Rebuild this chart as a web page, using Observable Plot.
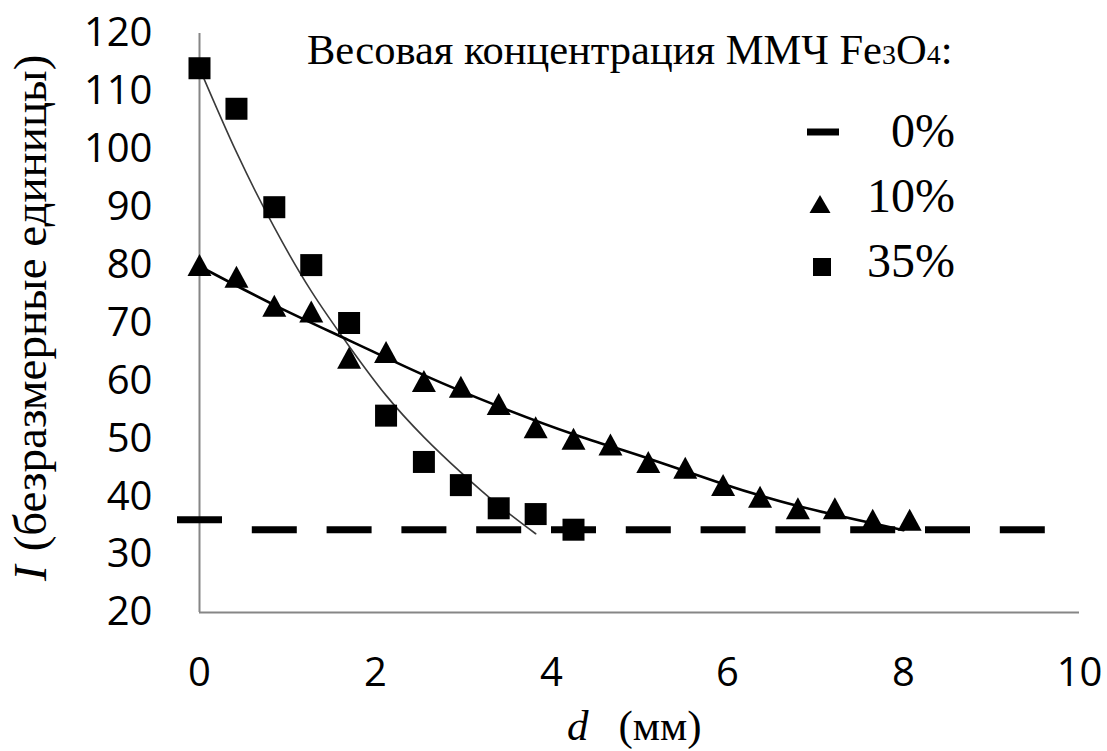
<!DOCTYPE html>
<html><head><meta charset="utf-8">
<script src="https://cdn.jsdelivr.net/npm/d3@7"></script>
<script src="https://cdn.jsdelivr.net/npm/@observablehq/plot@0.6"></script>
<style>
html,body{margin:0;padding:0;background:#fff;}
#chart{width:1107px;height:751px;overflow:hidden;}
</style></head><body><div id="chart"></div>
<script>
// ---- data ----
const xTicks = [0, 2, 4, 6, 8, 10];
const yTicks = [20, 30, 40, 50, 60, 70, 80, 90, 100, 110, 120];

// 0% (dash markers)
const d0 = [0, 0.85, 1.7, 2.55, 3.4, 4.25, 5.1, 5.95, 6.8, 7.65, 8.5, 9.35];
const i0 = [36, 34.3, 34.3, 34.3, 34.3, 34.3, 34.3, 34.3, 34.3, 34.3, 34.3, 34.3];

// 10% (triangles)
const d10 = [0, 0.42, 0.85, 1.27, 1.7, 2.12, 2.55, 2.97, 3.4, 3.82, 4.25, 4.67, 5.1, 5.52, 5.95, 6.37, 6.8, 7.22, 7.65, 8.07];
const i10 = [80, 78, 73, 72, 64, 65, 60, 59, 56, 52, 50, 49, 46, 45, 42, 40, 38, 38, 36, 36];

// 35% (squares)
const d35 = [0, 0.42, 0.85, 1.27, 1.7, 2.12, 2.55, 2.97, 3.4, 3.82, 4.25];
const i35 = [114, 107, 90, 80, 70, 54, 46, 42, 38, 37, 34.3];

// trend lines
const t10d = [0, 0.85, 1.7, 2.55, 3.4, 4.25, 5.1, 5.95, 6.8, 7.65, 8.0];
const t10i = [79.8, 73.1, 67, 61, 55.6, 50.8, 46.6, 42.2, 38.4, 35.4, 34.2];
const t35d = [0, 0.42, 0.85, 1.27, 1.7, 2.12, 2.55, 2.97, 3.4, 3.82];
const t35i = [114, 99.5, 86.5, 75.5, 66, 57.5, 50.3, 44.2, 38.5, 33.6];

const seriesLabels = ["0%", "10%", "35%"];

// ---- tables ----
const zip = (xs, ys) => xs.map((x, k) => ({x, y: ys[k]}));
const pts0 = zip(d0, i0), pts10 = zip(d10, i10), pts35 = zip(d35, i35);
const tr10 = zip(t10d, t10i), tr35 = zip(t35d, t35i);

// ---- marker shapes ----
const poly = (ctx, p) => { ctx.moveTo(p[0][0], p[0][1]); for (let k = 1; k < p.length; k++) ctx.lineTo(p[k][0], p[k][1]); ctx.closePath(); };
const rectPts = (w, h) => [[-w/2, -h/2], [w/2, -h/2], [w/2, h/2], [-w/2, h/2]];
const triPts = (w, h) => [[0, -h/2], [w/2, h/2], [-w/2, h/2]];
const dashSym = {draw(ctx) { poly(ctx, rectPts(45, 7)); }};
const triSym = {draw(ctx) { poly(ctx, triPts(24, 22)); }};
const sqSym = {draw(ctx) { poly(ctx, rectPts(22, 22)); }};

const tickFont = "'Open Sans', 'Liberation Sans', sans-serif";
const serif = "'Liberation Serif', 'DejaVu Serif', serif";

const plot = Plot.plot({
  width: 1107,
  height: 751,
  marginLeft: 199,
  marginRight: 28,
  marginTop: 33,
  marginBottom: 139,
  style: {fontFamily: tickFont, fontSize: "40px", background: "#fff", color: "#000"},
  x: {domain: [0, 10], label: null},
  y: {domain: [20, 120], label: null},
  marks: [
    Plot.ruleX([0], {stroke: "#868686", strokeWidth: 2}),
    Plot.ruleY([20], {stroke: "#868686", strokeWidth: 2}),
    Plot.axisY({ticks: yTicks, tickSize: 0, tickPadding: 47, fontSize: 40, fontFamily: tickFont, label: null}),
    Plot.axisX({ticks: xTicks, tickSize: 0, tickPadding: 45, fontSize: 40, fontFamily: tickFont, label: null}),
    Plot.line(tr35, {x: "x", y: "y", curve: "natural", stroke: "#3a3a3a", strokeWidth: 1.6}),
    Plot.line(tr10, {x: "x", y: "y", curve: "natural", stroke: "#000", strokeWidth: 2.6}),
    Plot.dot(pts0, {x: "x", y: "y", symbol: dashSym, r: 10, fill: "#000", stroke: "none"}),
    Plot.dot(pts10, {x: "x", y: "y", symbol: triSym, r: 10, fill: "#000", stroke: "none"}),
    Plot.dot(pts35, {x: "x", y: "y", symbol: sqSym, r: 10, fill: "#000", stroke: "none"})
  ]
});
document.getElementById("chart").appendChild(plot);

// ---- titles and legend ----
const svg = d3.select(plot);

// legend heading
const head = svg.append("text")
  .attr("x", 307).attr("y", 64).attr("text-anchor", "start")
  .attr("font-family", serif).attr("font-size", 42.5).attr("fill", "#000");
head.append("tspan").text("Весовая концентрация ММЧ Fe");
head.append("tspan").attr("font-size", 28).text("3");
head.append("tspan").text("O");
head.append("tspan").attr("font-size", 28).text("4");
head.append("tspan").text(":");

// legend rows
const legendRows = [
  {label: seriesLabels[0], shape: rectPts(32, 7), cx: 823, cy: 132, base: 147},
  {label: seriesLabels[1], shape: triPts(21, 18), cx: 820, cy: 204, base: 212},
  {label: seriesLabels[2], shape: rectPts(18, 18), cx: 822, cy: 267, base: 277}
];
for (const r of legendRows) {
  svg.append("path")
    .attr("d", "M" + r.shape.map(p => (p[0] + r.cx) + "," + (p[1] + r.cy)).join("L") + "Z")
    .attr("fill", "#000");
  svg.append("text")
    .attr("x", 955).attr("y", r.base).attr("text-anchor", "end")
    .attr("font-family", serif).attr("font-size", 48).attr("fill", "#000")
    .text(r.label);
}

// y axis title
const yt = svg.append("text")
  .attr("transform", "translate(46,581) rotate(-90)").attr("text-anchor", "start")
  .attr("font-family", serif).attr("font-size", 47).attr("fill", "#000");
yt.append("tspan").attr("font-style", "italic").text("I");
yt.append("tspan").attr("dx", 14).text("(безразмерные единицы)");

// x axis title
const xt = svg.append("text")
  .attr("x", 567).attr("y", 740).attr("text-anchor", "start")
  .attr("font-family", serif).attr("font-size", 43).attr("fill", "#000");
xt.append("tspan").attr("font-style", "italic").text("d");
xt.append("tspan").attr("dx", 30).text("(мм)");
</script></body></html>
